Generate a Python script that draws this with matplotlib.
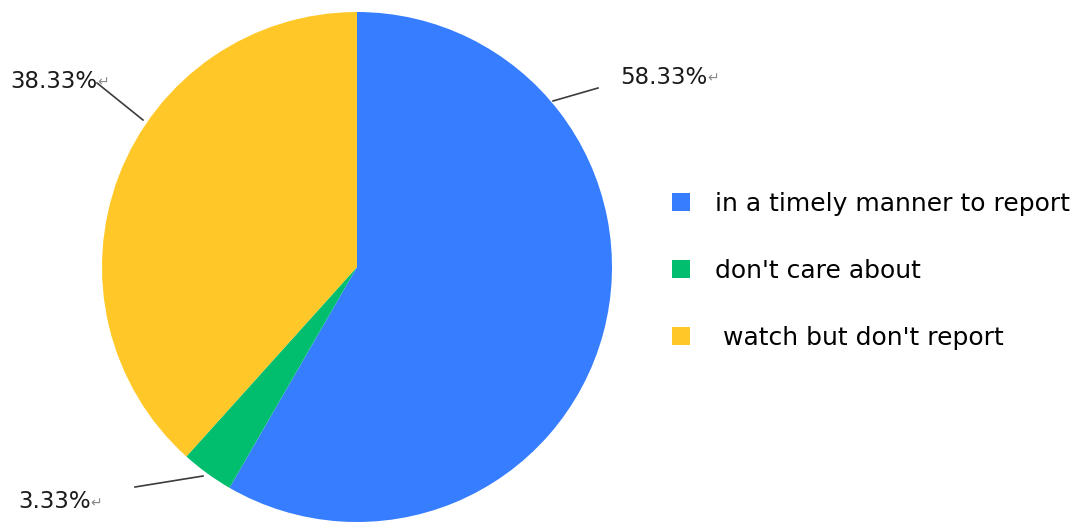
import matplotlib.pyplot as plt

plt.rcParams["font.family"] = ["DejaVu Sans"]

categories = ["in a timely manner to report", "don't care about", " watch but don't report"]
shares = [58.33, 3.33, 38.33]
colors = ["#377dff", "#00be6e", "#ffc828"]

# label anchor (text position) and leader line ends, in pixel coords
label_pos = [(620, 450), (10, 446), (18, 25)]
leader_from = [(553, 426), (143, 407), (203, 51)]
leader_to = [(598, 439), (97, 444), (135, 40)]
label_order = [0, 2, 1]

fig = plt.figure(figsize=(10.75, 5.27), dpi=100)
ax = fig.add_axes([0, 0, 1, 1])

wedges, _ = ax.pie(shares, colors=colors, startangle=90, counterclock=False,
                   center=(357, 260), radius=255, frame=True)

ax.set_xlim(0, 1075)
ax.set_ylim(0, 527)
ax.set_aspect("equal")
ax.axis("off")

for i, pos, p0, p1 in zip(label_order, label_pos, leader_from, leader_to):
    ax.plot([p0[0], p1[0]], [p0[1], p1[1]], color="#3c3c3c", lw=1.2)
    txt = ax.text(pos[0], pos[1], f"{shares[i]:.2f}%", fontsize=16.5,
                  ha="left", va="center", color="#1a1a1a")
    ax.annotate("\u21b5", xy=(1, 0.12), xycoords=txt, fontsize=10,
                color="#8a8a8a", ha="left", va="bottom")

ax.legend(wedges, categories, loc="upper left", bbox_to_anchor=(672, 335),
          bbox_transform=ax.transData, frameon=False, fontsize=18,
          handlelength=0.72, handleheight=0.72, handletextpad=1.0,
          labelspacing=1.72, borderpad=0, borderaxespad=0)

fig.savefig("out.png", dpi=100)
